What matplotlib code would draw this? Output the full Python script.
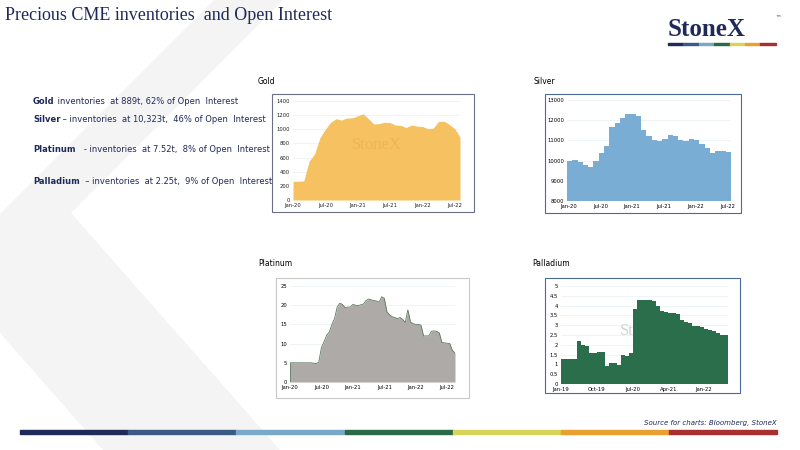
import matplotlib.pyplot as plt
import numpy as np
from matplotlib.patches import Polygon, Rectangle

# Data
gold = [265, 265, 270, 550, 650, 880, 1000, 1100, 1150, 1130, 1160, 1160,
        1190, 1220, 1150, 1075, 1080, 1100, 1095, 1060, 1055, 1025, 1060, 1045,
        1040, 1010, 1015, 1110, 1115, 1070, 1010, 890]
silver = [10000, 10050, 9950, 9800, 9700, 10000, 10400, 10700, 11650, 11850, 12100, 12300,
          12300, 12200, 11500, 11200, 11000, 10950, 11050, 11250, 11200, 11000, 10950, 11050,
          11000, 10800, 10600, 10400, 10500, 10480, 10450]
# platinum: twice a month, Jan-20 .. Aug-22
platinum = [5, 5, 5, 5, 5, 5, 5, 5, 5, 4.9, 4.8, 5.2,
            9, 10.5, 12.2, 13, 15, 16.5, 19.5, 20.5, 20.2, 19.4, 19.5, 19.5,
            20.2, 20, 19.9, 20.1, 20.3, 21.2, 21.6, 21.4, 21.2, 21.1, 20.8, 22.2,
            21.8, 18.3, 17.5, 17, 16.8, 16.5, 16.8, 16.3, 15.5, 18.8, 15.6, 15.2,
            15, 15, 14.8, 12, 12, 12, 13.2, 13.3, 13.2, 12.8, 10.3, 10.2,
            10.1, 10, 8.2, 7.6]
palladium = [1.3, 1.3, 1.3, 1.3, 2.2, 2.0, 1.95, 1.6, 1.6, 1.62, 1.62, 0.9,
             1.05, 1.05, 0.95, 1.5, 1.45, 1.6, 3.85, 4.3, 4.3, 4.3, 4.3, 4.25,
             4.0, 3.7, 3.65, 3.6, 3.6, 3.55, 3.25, 3.15, 3.1, 2.95, 2.95, 2.9,
             2.8, 2.75, 2.7, 2.6, 2.5, 2.5]
ticks_20 = ['Jan-20', 'Jul-20', 'Jan-21', 'Jul-21', 'Jan-22', 'Jul-22']
ticks_19 = ['Jan-19', 'Oct-19', 'Jul-20', 'Apr-21', 'Jan-22']

W, H = 800, 450
fig = plt.figure(figsize=(8, 4.5), dpi=100)
fig.patch.set_facecolor('white')

def fx(x): return x / W
def fy(y): return 1 - y / H

# background chevron
chev = [(214, 0), (283, 0), (71, 213), (280, 450), (103, 450), (0, 333), (0, 214)]
fig.patches.append(Polygon([(fx(a), fy(b)) for a, b in chev], closed=True,
                           transform=fig.transFigure, facecolor='#f4f4f4', edgecolor='none', zorder=-2))

fig.text(fx(5), fy(16), 'Precious CME inventories  and Open Interest', fontsize=13,
         family='Liberation Serif', color='#1f2a5a', va='center')
fig.text(fx(668), fy(30), 'StoneX', fontsize=18, family='Liberation Serif', color='#1f2a5a',
         va='center', weight='bold')
fig.text(fx(775), fy(20), '™', fontsize=4, color='#1f2a5a')

bar_cols = ['#1f2a5a', '#3a5a85', '#7aa8c8', '#2b6a48', '#d8d45a', '#e8a030', '#a83030']
for i, c in enumerate(bar_cols):
    fig.patches.append(Rectangle((fx(668 + i * 15.4), fy(45)), fx(15.4), 2.5 / H,
                                 transform=fig.transFigure, color=c, zorder=1))
    fig.patches.append(Rectangle((fx(20 + i * 108.2), fy(434)), fx(108.2), 4 / H,
                                 transform=fig.transFigure, color=c, zorder=1))
fig.text(fx(777), fy(423), 'Source for charts: Bloomberg, StoneX', fontsize=5, style='italic',
         color='#1f2a5a', ha='right', va='center')

notes = [('Gold', ' inventories  at 889t, 62% of Open  Interest', 101),
         ('Silver', ' – inventories  at 10,323t,  46% of Open  Interest', 120),
         ('Platinum', '   - inventories  at 7.52t,  8% of Open  Interest', 150),
         ('Palladium', '  – inventories  at 2.25t,  9% of Open  Interest', 181)]
for b, rest, y in notes:
    t = fig.text(fx(33), fy(y), b, fontsize=6, weight='bold', color='#1f2a5a', va='center')
    fig.canvas.draw()
    bb = t.get_window_extent()
    fig.text(bb.x1 / W, fy(y), rest, fontsize=6, color='#1f2a5a', va='center')

for name, x, y in [('Gold', 258, 82), ('Silver', 533, 82), ('Platinum', 258, 263), ('Palladium', 532, 263)]:
    fig.text(fx(x), fy(y), name, fontsize=5.5, color='black', va='center')

def frame(x0, y0, x1, y1, col):
    fig.patches.append(Rectangle((fx(x0), fy(y1)), fx(x1 - x0), (y1 - y0) / H, transform=fig.transFigure,
                                 facecolor='white', edgecolor=col, lw=0.8, zorder=-1))

def make_ax(x0, y0, x1, y1):
    ax = fig.add_axes([fx(x0), fy(y1), fx(x1 - x0), (y1 - y0) / H])
    ax.set_facecolor('none')
    ax.set_zorder(2)
    for s in ax.spines.values():
        s.set_visible(False)
    ax.tick_params(length=0, labelsize=3.8, pad=2)
    ax.grid(axis='y', color='#e8eef6', lw=0.5)
    ax.set_axisbelow(True)
    return ax

# Gold
frame(272, 94, 474, 212, '#6a6f88')
ax = make_ax(293, 101, 460, 200)
x = np.arange(len(gold))
ax.fill_between(x, gold, color='#f6c160', lw=0)
ax.set_xlim(0, len(gold) - 1); ax.set_ylim(0, 1400)
ax.set_yticks(range(0, 1401, 200)); ax.set_xticks(range(0, 31, 6)); ax.set_xticklabels(ticks_20)
ax.tick_params(labelcolor='#222222')
ax.text(0.5, 0.52, 'StoneX', transform=ax.transAxes, ha='center', fontsize=12,
        family='Liberation Serif', color='#e6a94a', alpha=0.5)

# Silver
frame(545, 94, 741, 213, '#4a6a9a')
ax = make_ax(567, 100, 731, 201)
x = np.arange(len(silver) + 1)
ax.fill_between(x, silver + [silver[-1]], 8000, step='post', color='#7aadd4', lw=0)
ax.set_xlim(0, len(silver)); ax.set_ylim(8000, 13000)
ax.set_yticks(range(8000, 13001, 1000)); ax.set_xticks(np.arange(0, 31, 6) + 0.3); ax.set_xticklabels(ticks_20)

# Platinum
frame(276, 278, 469, 398, '#c8c8c8')
ax = make_ax(290, 286, 455, 382)
x = np.arange(len(platinum)) / 2
ax.fill_between(x, platinum, color='#aeaaa7', lw=0)
ax.plot(x, platinum, color='#5a7a5a', lw=0.6)
ax.plot([0, 0], [0, platinum[0]], color='#5a7a5a', lw=0.6)
ax.set_xlim(0, x[-1]); ax.set_ylim(0, 25)
ax.set_yticks(range(0, 26, 5)); ax.set_xticks(range(0, 31, 6)); ax.set_xticklabels(ticks_20)

# Palladium
frame(545, 278, 740, 393, '#4a6a9a')
ax = make_ax(561, 286, 728, 384)
x = np.arange(len(palladium) + 1)
ax.fill_between(x, palladium + [palladium[-1]], step='post', color='#2a6e4b', lw=0)
ax.set_xlim(0, len(palladium)); ax.set_ylim(0, 5)
ax.set_yticks(np.arange(0, 5.01, 0.5)); ax.set_yticklabels(['0', '0.5', '1', '1.5', '2', '2.5', '3', '3.5', '4', '4.5', '5'])
ax.set_xticks(range(0, 37, 9)); ax.set_xticklabels(ticks_19)
ax.text(0.35, 0.5, 'St', transform=ax.transAxes, fontsize=12, family='Liberation Serif',
        color='#c8c8c8', alpha=0.8)

fig.savefig('out.png', dpi=100)
